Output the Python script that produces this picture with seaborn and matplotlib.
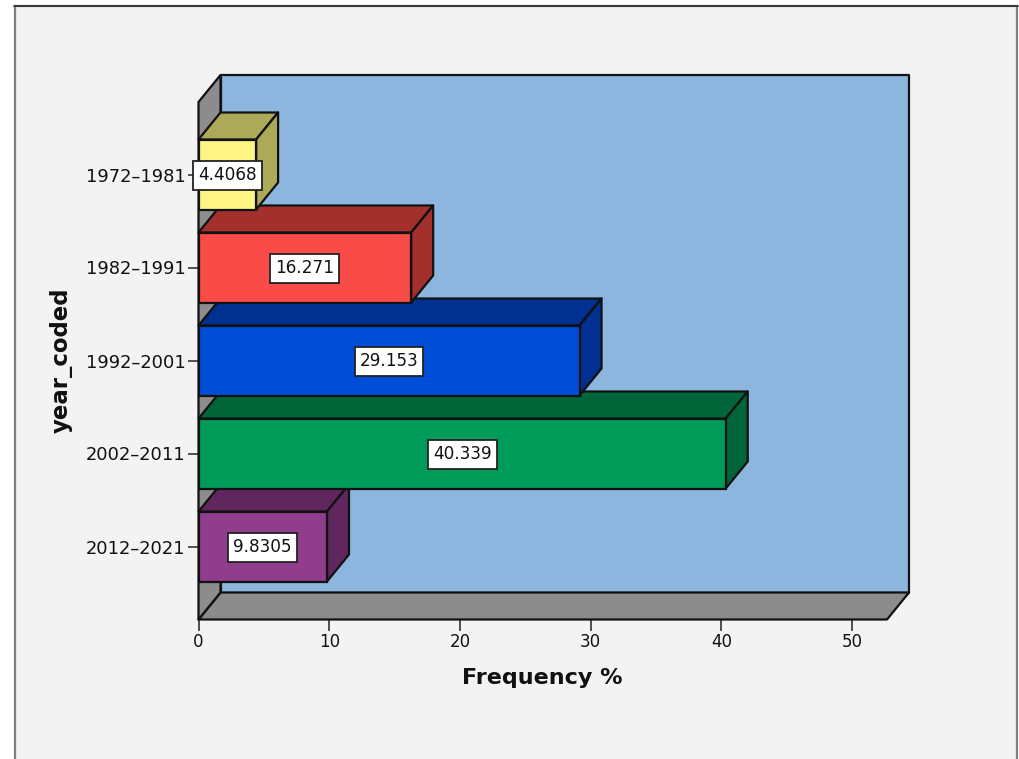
import pandas as pd
import matplotlib
matplotlib.use("Agg")
import matplotlib.pyplot as plt
from matplotlib.lines import Line2D
from matplotlib.patches import Polygon, Rectangle
import seaborn as sns

years = ["1972–1981", "1982–1991", "1992–2001", "2002–2011", "2012–2021"]
freq = [4.4068, 16.271, 29.153, 40.339, 9.8305]
front_colors = ["#fdf685", "#f94b47", "#004dd8", "#009b58", "#903d8d"]
dark_colors = ["#aca958", "#a3302d", "#003191", "#00663a", "#60275f"]
x_ticks = [0, 10, 20, 30, 40, 50]

W, H = 1019, 759
BG = "#f3f3f3"
WALL = "#8cb6dd"
GREY = "#8c8c8c"
EDGE = "#111111"
LW = 1.6

# pixel sizes measured on the reference
PX_PER_X = 13.07
PX_PER_CAT = 93.0
DEPTH_X, DEPTH_Y = 22, 27
LEFT, RIGHT, TOP, BOTTOM = 198.5, 887, 102, 619.5
FIRST_CAT = 174.5

sns.set_style("white")
plt.rcParams["font.family"] = ["DejaVu Sans"]

df = pd.DataFrame({"year": years, "freq": freq})

fig = plt.figure(figsize=(W / 100, H / 100), dpi=100, facecolor="white")
ax = fig.add_axes([LEFT / W, 1 - BOTTOM / H, (RIGHT - LEFT) / W, (BOTTOM - TOP) / H])

# panel behind the chart, runs off the bottom of the image
fig.add_artist(Rectangle((14.5 / W, -0.02), (1017 - 14.5) / W, 1.02 - 5.5 / H,
                         transform=fig.transFigure, facecolor=BG, edgecolor="#808080",
                         linewidth=1.6, zorder=-1))
fig.add_artist(Line2D([14 / W, 1017.5 / W], [1 - 5.5 / H, 1 - 5.5 / H],
                      transform=fig.transFigure, color="#333333", linewidth=1.3, zorder=-0.5))
ax.patch.set_visible(False)

sns.barplot(data=df, y="year", x="freq", hue="year", order=years, hue_order=years,
            palette=front_colors, width=70 / PX_PER_CAT, saturation=1, dodge=False,
            legend=False, edgecolor=EDGE, linewidth=LW, ax=ax)

x1 = (RIGHT - LEFT) / PX_PER_X
y0 = (BOTTOM - FIRST_CAT) / PX_PER_CAT
y1 = (TOP - FIRST_CAT) / PX_PER_CAT
ax.set_xlim(0, x1)
ax.set_ylim(y0, y1)
dx = DEPTH_X / PX_PER_X
dy = DEPTH_Y / PX_PER_CAT


def face(points, color, z):
    ax.add_patch(Polygon(points, closed=True, facecolor=color, edgecolor=EDGE,
                         linewidth=LW, joinstyle="round", clip_on=False, zorder=z))


# 3d box: back wall, floor, left wall
face([(dx, y0 - dy), (x1 + dx, y0 - dy), (x1 + dx, y1 - dy), (dx, y1 - dy)], WALL, 0.5)
face([(0, y0), (x1, y0), (x1 + dx, y0 - dy), (dx, y0 - dy)], GREY, 0.6)
face([(0, y0), (dx, y0 - dy), (dx, y1 - dy), (0, y1)], GREY, 0.6)

# upper bars sit in front of the lower ones in the reference
bars = [p for p in ax.patches if isinstance(p, Rectangle)]
bars = sorted(bars, key=lambda p: p.get_y())
for i, bar in enumerate(bars):
    z = 10 - i
    yt, h, w = bar.get_y(), bar.get_height(), bar.get_width()
    yb = yt + h
    bar.set_zorder(z + 0.2)
    face([(0, yt), (w, yt), (w + dx, yt - dy), (dx, yt - dy)], dark_colors[i], z)
    face([(w, yt), (w, yb), (w + dx, yb - dy), (w + dx, yt - dy)], dark_colors[i], z)
    ax.annotate(f"{freq[i]:.5g}", (w / 2, i), xytext=(0, -0.7), textcoords="offset points",
                ha="center", va="center", fontsize=12.2, color="#111111", zorder=20,
                bbox=dict(boxstyle="square,pad=0.3", facecolor="white", edgecolor="#222222",
                          linewidth=1.3))

sns.despine(ax=ax, left=True, bottom=True, top=True, right=True)
ax.set_xticks(x_ticks)
ax.tick_params(axis="x", length=8, width=1.2, color="#333333", pad=2, labelsize=12,
               bottom=True, labelcolor="#111111")
ax.tick_params(axis="y", length=8, width=1.2, color="#333333", pad=1.5, labelsize=12.9,
               left=True, labelcolor="#111111")

ax.set_xlabel("Frequency %", fontsize=16, fontweight="bold", color="#111111")
ax.xaxis.set_label_coords((542.5 - LEFT) / (RIGHT - LEFT), (BOTTOM - 678) / (BOTTOM - TOP))
ax.xaxis.label.set_va("center")
ax.set_ylabel("year_coded", fontsize=16.4, fontweight="bold", color="#111111")
ax.yaxis.set_label_coords((61 - LEFT) / (RIGHT - LEFT), (BOTTOM - 360) / (BOTTOM - TOP))
ax.yaxis.label.set_va("center")

fig.savefig("out.png", dpi=100)
